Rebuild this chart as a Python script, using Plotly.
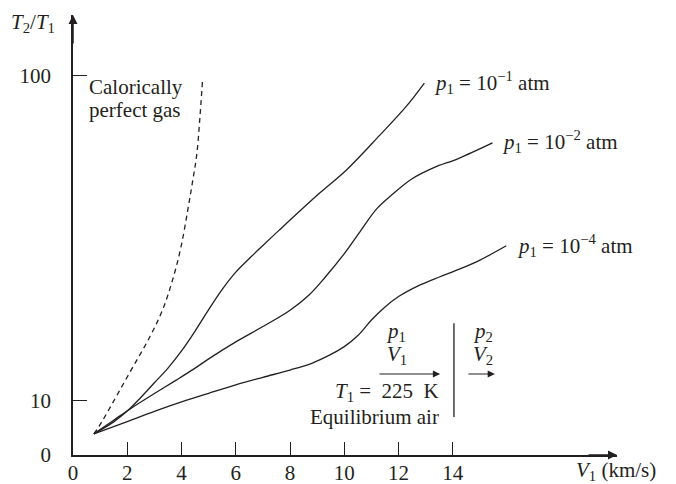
import math
import plotly.graph_objects as go

# Shock-tube temperature ratio T2/T1 versus upstream velocity V1
v_perfect = [0.77, 0.96, 2.09, 2.83, 3.30, 3.67, 3.97, 4.23, 4.41, 4.56, 4.67, 4.77]
t_perfect = [7.91, 8.34, 12.2, 15.7, 19.0, 23.5, 29.4, 38.5, 47.3, 56.9, 72.8, 95.3]

v_p1 = [0.77, 1.5, 2.0, 2.5, 3.0, 3.5, 4.0, 4.5, 5.0, 5.5, 6.0, 6.5, 7.0, 7.6,
        9.09, 10.08, 11.3, 12.29, 12.95]
t_p1 = [7.91, 8.61, 9.29, 10.23, 11.35, 12.59, 14.22, 16.37, 19.05, 21.98, 24.83, 27.35,
        29.99, 33.42, 43.45, 51.17, 65.31, 80.35, 94.62]

v_p2 = [0.77, 1.5, 2.2, 3.0, 3.82, 4.5, 5.03, 6.03, 7.0, 8.0, 8.7, 9.3, 10.0, 10.6,
        11.2, 11.8, 12.5, 13.3, 14.2, 15.46]
t_p2 = [7.91, 8.71, 9.55, 10.52, 11.59, 12.59, 13.49, 15.21, 16.90, 18.97, 21.13, 23.99,
        28.31, 33.27, 38.90, 43.25, 48.08, 52.00, 55.46, 61.94]

v_p4 = [0.77, 2.0, 3.0, 4.0, 5.0, 6.0, 7.0, 8.0, 8.8, 9.45, 10.0, 10.5, 11.0, 11.5,
        12.0, 12.7, 13.5, 14.24, 15.0, 15.97]
t_p4 = [7.91, 8.63, 9.27, 9.91, 10.54, 11.19, 11.80, 12.42, 13.03, 13.80, 14.66, 15.85,
        17.70, 19.41, 20.89, 22.49, 23.99, 25.35, 27.04, 29.92]

x_ticks = [0, 2, 4, 6, 8, 10, 12, 14]
y_ticks = [6.81, 10, 100]
y_tick_text = ["0", "10", "100"]

FONT = "Liberation Serif"
INK = "#231f20"
FS = 21

fig = go.Figure()
line = dict(color=INK, width=1.3, shape="spline", smoothing=1.0)
fig.add_trace(go.Scatter(x=v_perfect, y=t_perfect, mode="lines",
                         line=dict(color=INK, width=1.3, dash="5px,4px", shape="spline", smoothing=1.0)))
fig.add_trace(go.Scatter(x=v_p1, y=t_p1, mode="lines", line=line))
fig.add_trace(go.Scatter(x=v_p2, y=t_p2, mode="lines", line=line))
fig.add_trace(go.Scatter(x=v_p4, y=t_p4, mode="lines", line=line))

# shock wave in the inset sketch
fig.add_trace(go.Scatter(x=[14.04, 14.04], y=[17.3, 8.91], mode="lines",
                         line=dict(color=INK, width=1.3)))

L = math.log10
ann = []


def text(x, y, s, xanchor="left", size=FS):
    ann.append(dict(x=x, y=L(y), xref="x", yref="y", text=s, showarrow=False,
                    xanchor=xanchor, yanchor="middle",
                    font=dict(family=FONT, size=size, color=INK)))


text(0.52, 92.0, "Calorically")
text(0.52, 78.0, "perfect gas")
text(13.23, 95.3, "<i>p</i><sub>1</sub> = 10<sup>−1</sup> atm")
text(15.74, 62.4, "<i>p</i><sub>1</sub> = 10<sup>−2</sup> atm")
text(16.29, 29.9, "<i>p</i><sub>1</sub> = 10<sup>−4</sup> atm")
text(11.9, 16.3, "<i>p</i><sub>1</sub>", xanchor="center")
text(11.94, 13.8, "<i>V</i><sub>1</sub>", xanchor="center")
text(13.55, 10.6, "<i>T</i><sub>1</sub> =  225  K", xanchor="right")
text(13.55, 8.9, "Equilibrium air", xanchor="right")
text(15.11, 16.3, "<i>p</i><sub>2</sub>", xanchor="center")
text(15.11, 13.8, "<i>V</i><sub>2</sub>", xanchor="center")


def arrow(x0, x1, y):
    ann.append(dict(x=x1, y=L(y), ax=x0, ay=L(y), xref="x", yref="y", axref="x", ayref="y",
                    text="", showarrow=True, arrowhead=2, arrowsize=1.2, arrowwidth=1.2,
                    arrowcolor=INK))


arrow(11.24, 13.53, 12.08)
arrow(14.52, 15.55, 12.08)

# axis arrowheads
ann.append(dict(x=0, y=1, xref="paper", yref="paper", ax=0, ay=30, text="", showarrow=True,
                arrowhead=2, arrowsize=1.2, arrowwidth=1.5, arrowcolor=INK))
ann.append(dict(x=1, y=0, xref="paper", yref="paper", ax=-30, ay=0, text="", showarrow=True,
                arrowhead=2, arrowsize=1.2, arrowwidth=1.5, arrowcolor=INK))
# axis titles
ann.append(dict(x=-0.117, y=1.0, xref="paper", yref="paper", yshift=-8,
                text="<i>T</i><sub>2</sub>/<i>T</i><sub>1</sub>", showarrow=False,
                xanchor="left", yanchor="middle", font=dict(family=FONT, size=FS, color=INK)))
ann.append(dict(x=1.0, y=0, xref="paper", yref="paper", xshift=-43, yshift=-16,
                text="<i>V</i><sub>1</sub> (km/s)", showarrow=False,
                xanchor="left", yanchor="middle", font=dict(family=FONT, size=FS, color=INK)))

fig.update_layout(
    width=676, height=484,
    margin=dict(l=73, r=59, t=15, b=29, autoexpand=False),
    paper_bgcolor="white", plot_bgcolor="white",
    showlegend=False,
    annotations=ann,
    font=dict(family=FONT, size=FS, color=INK),
    xaxis=dict(range=[0, 20.05], tickvals=x_ticks, ticks="inside", ticklen=13,
               tickwidth=1.3, tickcolor=INK, showline=True, linecolor=INK, linewidth=1.5,
               showgrid=False, zeroline=False, ticklabelstandoff=-2, automargin=False),
    yaxis=dict(type="log", range=[L(6.81), 2.185], tickvals=y_ticks, ticktext=y_tick_text,
               ticks="inside", ticklen=14, tickwidth=1.3, tickcolor=INK, showline=True,
               linecolor=INK, linewidth=1.5, showgrid=False, zeroline=False,
               ticklabelstandoff=16, automargin=False),
)

fig.write_html("out.html")
